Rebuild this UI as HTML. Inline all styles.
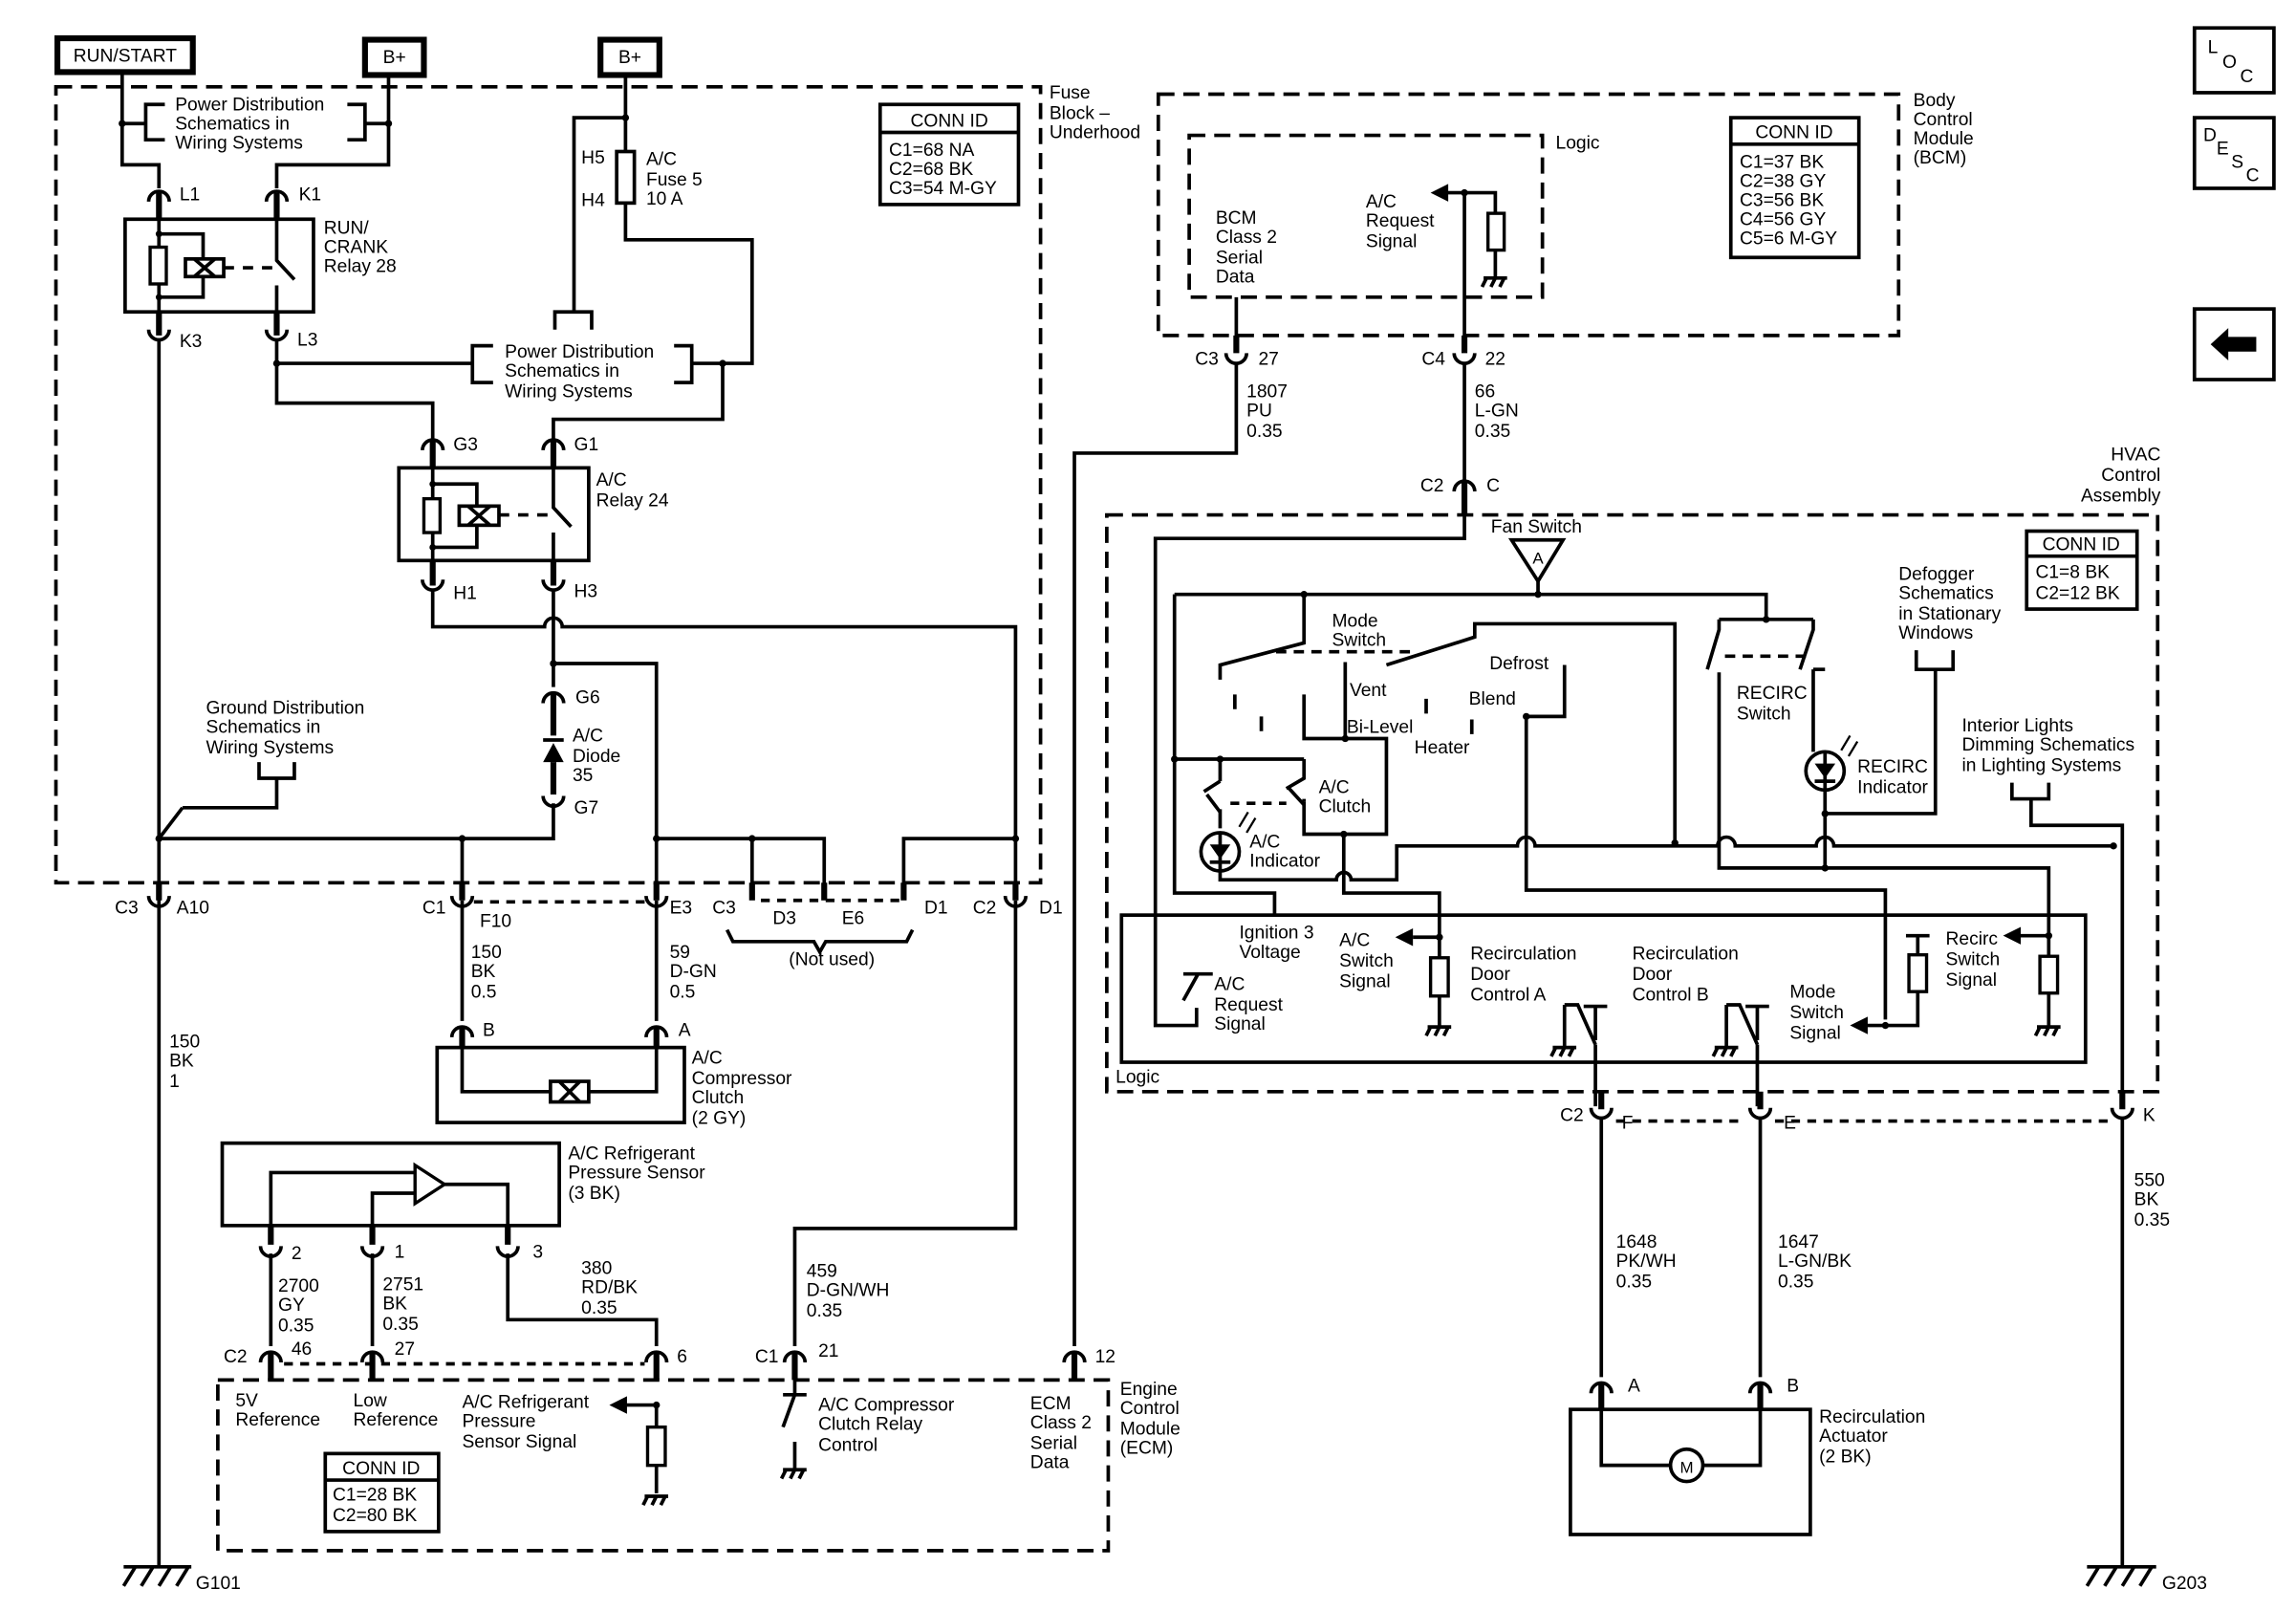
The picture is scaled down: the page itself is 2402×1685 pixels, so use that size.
<!DOCTYPE html>
<html><head><meta charset="utf-8"><style>
html,body{margin:0;padding:0;background:#fff}
svg{display:block}
text{font-family:"Liberation Sans",sans-serif;font-size:12.5px;fill:#000}
.w{stroke:#000;stroke-width:2.4;fill:none}
.t{stroke:#000;stroke-width:4;fill:none}
.d{stroke:#000;stroke-width:2.4;fill:none;stroke-dasharray:11 6}
.c{stroke:#000;stroke-width:2.4;fill:none}
</style></head><body>
<svg width="2402" height="1685" viewBox="0 0 1560 1095" preserveAspectRatio="none" xmlns="http://www.w3.org/2000/svg">
<rect width="1560" height="1095" fill="#fff"/>
<!-- top power boxes -->
<rect x="39" y="26" width="92" height="23" fill="#fff" stroke="#000" stroke-width="4"/>
<text x="85" y="42" text-anchor="middle">RUN/START</text>
<rect x="248" y="27" width="40" height="24" fill="#fff" stroke="#000" stroke-width="4"/>
<text x="268" y="43" text-anchor="middle">B+</text>
<rect x="408" y="27" width="40" height="24" fill="#fff" stroke="#000" stroke-width="4"/>
<text x="428" y="43" text-anchor="middle">B+</text>
<!-- fuse block -->
<rect x="38" y="59" width="669" height="541" class="d"/>
<text x="713" y="67">Fuse</text><text x="713" y="81">Block –</text><text x="713" y="94">Underhood</text>
<rect x="598" y="71" width="94" height="68" fill="none" stroke="#000" stroke-width="2.4"/>
<line x1="598" y1="90" x2="692" y2="90" class="w"/>
<text x="645" y="86" text-anchor="middle">CONN ID</text>
<text x="604" y="106">C1=68 NA</text><text x="604" y="119">C2=68 BK</text><text x="604" y="132">C3=54 M-GY</text>
<!-- power dist bracket 1 -->
<path class="w" d="M83 49 V112 H108 V128 M264 51 V112 H188 V128 M83 84 H99 M264 84 H248 M112 71 H99 V95 H112 M236 71 H248 V95 H236"/>
<circle cx="83" cy="84" r="2.4"/><circle cx="264" cy="84" r="2.4"/>
<text x="119" y="75">Power Distribution</text><text x="119" y="88">Schematics in</text><text x="119" y="101">Wiring Systems</text>
<!-- L1 K1 -->
<path class="c" d="M101 137 A7 7 0 0 1 115 137 M181 137 A7 7 0 0 1 195 137"/>
<text x="122" y="136">L1</text><text x="203" y="136">K1</text>
<path class="t" d="M108 131 V149 M188 131 V149 M108 212 V228 M188 212 V228"/>
<!-- relay 28 -->
<rect x="85" y="149" width="128" height="63" fill="none" stroke="#000" stroke-width="2.4"/>
<path class="w" d="M108 149 V212 M108 159 H138 V176 M108 202 H138 V188 M188 149 V177 L200 190 M188 194 V212"/>
<path class="d" d="M152 182 H186" style="stroke-dasharray:7 6"/>
<rect x="102" y="168" width="11" height="25" fill="#fff" stroke="#000" stroke-width="2.2"/>
<rect x="126" y="176" width="26" height="12" fill="#fff" stroke="#000" stroke-width="2.4"/>
<path class="w" d="M132 176 L146 188 M146 176 L132 188"/>
<circle cx="108" cy="159" r="2.2"/><circle cx="108" cy="202" r="2.2"/>
<text x="220" y="159">RUN/</text><text x="220" y="172">CRANK</text><text x="220" y="185">Relay 28</text>
<path class="c" d="M101 224 A7 7 0 0 0 115 224 M181 224 A7 7 0 0 0 195 224"/>
<text x="122" y="236">K3</text><text x="202" y="235">L3</text>
<!-- L3 wiring -->
<path class="w" d="M188 230 V274 H294 V298 M188 247 H321 M108 230 V1065"/>
<circle cx="188" cy="247" r="2.4"/>
<path class="w" d="M335 235 H321 V260 H335 M458 235 H470 V260 H458 M470 247 H511 V163 H425 V52 M491 247 V285 H376 V298 M425 80 H390 V212 M377 224 V212 H402 V224"/>
<circle cx="491" cy="247" r="2.4"/><circle cx="425" cy="80" r="2.4"/>
<rect x="419" y="103" width="12" height="35" fill="#fff" stroke="#000" stroke-width="2.4"/>
<text x="343" y="243">Power Distribution</text><text x="343" y="256">Schematics in</text><text x="343" y="270">Wiring Systems</text>
<text x="395" y="111">H5</text><text x="395" y="140">H4</text>
<text x="439" y="112">A/C</text><text x="439" y="126">Fuse 5</text><text x="439" y="139">10 A</text>
<!-- relay 24 -->
<path class="c" d="M287 306 A7 7 0 0 1 301 306 M369 306 A7 7 0 0 1 383 306"/>
<text x="308" y="306">G3</text><text x="390" y="306">G1</text>
<path class="t" d="M294 300 V318 M376 300 V318 M294 381 V398 M376 381 V398"/>
<rect x="271" y="318" width="129" height="63" fill="none" stroke="#000" stroke-width="2.4"/>
<path class="w" d="M294 318 V381 M294 329 H324 V344 M294 372 H324 V357 M376 318 V345 L388 358 M376 362 V381"/>
<path class="d" d="M339 350 H372" style="stroke-dasharray:7 6"/>
<rect x="288" y="339" width="11" height="23" fill="#fff" stroke="#000" stroke-width="2.2"/>
<rect x="312" y="344" width="27" height="13" fill="#fff" stroke="#000" stroke-width="2.4"/>
<path class="w" d="M318 344 L333 357 M333 344 L318 357"/>
<circle cx="294" cy="329" r="2.2"/><circle cx="294" cy="372" r="2.2"/>
<text x="405" y="330">A/C</text><text x="405" y="344">Relay 24</text>
<path class="c" d="M287 394 A7 7 0 0 0 301 394 M369 394 A7 7 0 0 0 383 394"/>
<text x="308" y="407">H1</text><text x="390" y="406">H3</text>
<path class="w" d="M294 400 V426 H370 A6 6 0 0 1 382 426 H690 V607 M376 400 V467 M376 451 H446 V607"/>
<circle cx="376" cy="451" r="2.4"/>
<!-- diode -->
<path class="c" d="M369 478 A7 7 0 0 1 383 478"/>
<text x="391" y="478">G6</text>
<path class="t" d="M376 472 V500 M376 518 V540"/>
<path d="M369 518 L383 518 L376 505 Z" fill="#000"/><path class="w" d="M369 503 H383"/>
<text x="389" y="504">A/C</text><text x="389" y="518">Diode</text><text x="389" y="531">35</text>
<path class="c" d="M369 541 A7 7 0 0 0 383 541"/>
<text x="390" y="553">G7</text>
<path class="w" d="M376 546 V570 H108 M124 549 H188 V529 M176 518 V529 H200 V518 M124 549 L108 570 M314 570 V607 M446 570 H511 V607 M511 570 H560 V607 M614 607 V570 H690"/>
<circle cx="108" cy="570" r="2.4"/><circle cx="314" cy="570" r="2.4"/><circle cx="446" cy="570" r="2.4"/><circle cx="511" cy="570" r="2.4"/><circle cx="690" cy="570" r="2.4"/>
<text x="140" y="485">Ground Distribution</text><text x="140" y="498">Schematics in</text><text x="140" y="512">Wiring Systems</text>
<!-- fuse block bottom connectors -->
<path class="t" d="M108 600 V612 M314 600 V612 M446 600 V612 M511 600 V612 M560 600 V612 M614 600 V612 M690 600 V612"/>
<path class="c" d="M101 609 A7 7 0 0 0 115 609 M307 609 A7 7 0 0 0 321 609 M439 609 A7 7 0 0 0 453 609 M683 609 A7 7 0 0 0 697 609"/>
<path class="d" d="M322 613 H440 M517 612 H612" style="stroke-dasharray:6 5"/>
<text x="78" y="621">C3</text><text x="120" y="621">A10</text>
<text x="287" y="621">C1</text><text x="326" y="630">F10</text>
<text x="455" y="621">E3</text><text x="484" y="621">C3</text><text x="525" y="628">D3</text><text x="572" y="628">E6</text><text x="628" y="621">D1</text>
<text x="661" y="621">C2</text><text x="706" y="621">D1</text>
<path class="w" d="M494 632 L498 640 H553 L557 647 L561 640 H616 L620 632"/>
<text x="536" y="656">(Not used)</text>
<text x="115" y="712">150</text><text x="115" y="725">BK</text><text x="115" y="739">1</text>
<!-- compressor clutch -->
<path class="w" d="M314 612 V694 M446 612 V694"/>
<text x="320" y="651">150</text><text x="320" y="664">BK</text><text x="320" y="678">0.5</text>
<text x="455" y="651">59</text><text x="455" y="664">D-GN</text><text x="455" y="678">0.5</text>
<path class="c" d="M307 705 A7 7 0 0 1 321 705 M439 705 A7 7 0 0 1 453 705"/>
<text x="328" y="704">B</text><text x="461" y="704">A</text>
<path class="t" d="M314 699 V712 M446 699 V712"/>
<rect x="297" y="712" width="168" height="51" fill="none" stroke="#000" stroke-width="2.4"/>
<path class="w" d="M314 712 V742 H446 V712"/>
<rect x="374" y="735" width="26" height="14" fill="#fff" stroke="#000" stroke-width="2.4"/>
<path class="w" d="M380 735 L394 749 M394 735 L380 749"/>
<text x="470" y="723">A/C</text><text x="470" y="737">Compressor</text><text x="470" y="750">Clutch</text><text x="470" y="764">(2 GY)</text>
<!-- pressure sensor -->
<rect x="151" y="777" width="229" height="56" fill="none" stroke="#000" stroke-width="2.4"/>
<path class="w" d="M184 833 V797 H282 M253 833 V811 H282 M302 805 H345 V833"/>
<path d="M282 792 L302 805 L282 818 Z" fill="#fff" stroke="#000" stroke-width="2.2"/>
<text x="386" y="788">A/C Refrigerant</text><text x="386" y="801">Pressure Sensor</text><text x="386" y="815">(3 BK)</text>
<path class="t" d="M184 833 V846 M253 833 V846 M345 833 V846"/>
<path class="c" d="M177 847 A7 7 0 0 0 191 847 M246 847 A7 7 0 0 0 260 847 M338 847 A7 7 0 0 0 352 847"/>
<text x="198" y="856">2</text><text x="268" y="855">1</text><text x="362" y="855">3</text>
<path class="w" d="M184 852 V915 M253 852 V915 M345 852 V897 H446 V915"/>
<text x="189" y="878">2700</text><text x="189" y="891">GY</text><text x="189" y="905">0.35</text>
<text x="260" y="877">2751</text><text x="260" y="890">BK</text><text x="260" y="904">0.35</text>
<text x="395" y="866">380</text><text x="395" y="879">RD/BK</text><text x="395" y="893">0.35</text>
<path class="w" d="M540 915 V835 H690 V612"/>
<text x="548" y="868">459</text><text x="548" y="881">D-GN/WH</text><text x="548" y="895">0.35</text>
<path class="w" d="M730 915 V308 H840 V247"/>
<!-- ECM -->
<path class="c" d="M177 926 A7 7 0 0 1 191 926 M246 926 A7 7 0 0 1 260 926 M439 926 A7 7 0 0 1 453 926 M533 926 A7 7 0 0 1 547 926 M723 926 A7 7 0 0 1 737 926"/>
<path class="t" d="M184 920 V938 M253 920 V938 M446 920 V938 M540 920 V938 M730 920 V938"/>
<path class="d" d="M193 927 H438" style="stroke-dasharray:6 5"/>
<text x="152" y="926">C2</text><text x="198" y="921">46</text><text x="268" y="921">27</text><text x="460" y="926">6</text>
<text x="513" y="926">C1</text><text x="556" y="922">21</text><text x="744" y="926">12</text>
<rect x="148" y="938" width="605" height="116" class="d"/>
<text x="761" y="948">Engine</text><text x="761" y="961">Control</text><text x="761" y="975">Module</text><text x="761" y="988">(ECM)</text>
<text x="160" y="956">5V</text><text x="160" y="969">Reference</text>
<text x="240" y="956">Low</text><text x="240" y="969">Reference</text>
<text x="314" y="957">A/C Refrigerant</text><text x="314" y="970">Pressure</text><text x="314" y="984">Sensor Signal</text>
<path class="w" d="M424 955 H446 V970 M446 996 V1015"/>
<path d="M414 955 L426 949 L426 961 Z" fill="#000"/><circle cx="446" cy="955" r="2.4"/>
<rect x="440" y="970" width="12" height="26" fill="#fff" stroke="#000" stroke-width="2.2"/>
<path class="w" d="M438 1017 H454 M440 1017 L437 1023 M446 1017 L443 1023 M452 1017 L449 1023"/>
<path class="w" d="M540 938 V948 M532 948 H548 M540 948 L532 970 M540 980 V998 M532 999 H548 M534 999 L531 1005 M540 999 L537 1005 M546 999 L543 1005"/>
<text x="556" y="959">A/C Compressor</text><text x="556" y="972">Clutch Relay</text><text x="556" y="986">Control</text>
<text x="700" y="958">ECM</text><text x="700" y="971">Class 2</text><text x="700" y="985">Serial</text><text x="700" y="998">Data</text>
<rect x="221" y="988" width="77" height="53" fill="none" stroke="#000" stroke-width="2.4"/>
<line x1="221" y1="1006" x2="298" y2="1006" class="w"/>
<text x="259" y="1002" text-anchor="middle">CONN ID</text>
<text x="226" y="1020">C1=28 BK</text><text x="226" y="1034">C2=80 BK</text>
<!-- G101 -->
<path class="w" d="M84 1065 H130 M92 1065 L84 1078 M104 1065 L96 1078 M116 1065 L108 1078 M128 1065 L120 1078"/>
<text x="133" y="1080">G101</text>
<!-- BCM -->
<rect x="787" y="64" width="503" height="164" class="d"/>
<rect x="808" y="92" width="240" height="110" class="d"/>
<text x="1057" y="101">Logic</text>
<text x="1300" y="72">Body</text><text x="1300" y="85">Control</text><text x="1300" y="98">Module</text><text x="1300" y="111">(BCM)</text>
<rect x="1176" y="80" width="87" height="95" fill="none" stroke="#000" stroke-width="2.4"/>
<line x1="1176" y1="98" x2="1263" y2="98" class="w"/>
<text x="1219" y="94" text-anchor="middle">CONN ID</text>
<text x="1182" y="114">C1=37 BK</text><text x="1182" y="127">C2=38 GY</text><text x="1182" y="140">C3=56 BK</text><text x="1182" y="153">C4=56 GY</text><text x="1182" y="166">C5=6 M-GY</text>
<text x="826" y="152">BCM</text><text x="826" y="165">Class 2</text><text x="826" y="179">Serial</text><text x="826" y="192">Data</text>
<text x="928" y="141">A/C</text><text x="928" y="154">Request</text><text x="928" y="168">Signal</text>
<path class="w" d="M840 202 V234 M982 131 H1016 V145 M1016 170 V188 M1008 189 H1024 M1010 189 L1007 195 M1016 189 L1013 195 M1022 189 L1019 195 M995 131 V234"/>
<path d="M972 131 L984 125 L984 137 Z" fill="#000"/><circle cx="995" cy="131" r="2.4"/>
<rect x="1011" y="145" width="11" height="25" fill="#fff" stroke="#000" stroke-width="2.2"/>
<path class="t" d="M840 228 V240 M995 228 V240"/>
<path class="c" d="M833 240 A7 7 0 0 0 847 240 M988 240 A7 7 0 0 0 1002 240"/>
<text x="812" y="248">C3</text><text x="855" y="248">27</text><text x="966" y="248">C4</text><text x="1009" y="248">22</text>
<text x="847" y="270">1807</text><text x="847" y="283">PU</text><text x="847" y="297">0.35</text>
<text x="1002" y="270">66</text><text x="1002" y="283">L-GN</text><text x="1002" y="297">0.35</text>
<path class="w" d="M995 246 V326"/>
<path class="c" d="M988 334 A7 7 0 0 1 1002 334"/>
<path class="t" d="M995 328 V350"/>
<text x="965" y="334">C2</text><text x="1010" y="334">C</text>
<!-- HVAC -->
<rect x="752" y="350" width="714" height="392" class="d"/>
<text x="1468" y="313" text-anchor="end">HVAC</text><text x="1468" y="327" text-anchor="end">Control</text><text x="1468" y="341" text-anchor="end">Assembly</text>
<rect x="1377" y="361" width="75" height="53" fill="none" stroke="#000" stroke-width="2.4"/>
<line x1="1377" y1="378" x2="1452" y2="378" class="w"/>
<text x="1414" y="374" text-anchor="middle">CONN ID</text>
<text x="1383" y="393">C1=8 BK</text><text x="1383" y="407">C2=12 BK</text>
<!-- logic inside hvac -->
<path class="w" d="M995 350 V366 H785 V697 H813 V685"/>
<text x="1013" y="362">Fan Switch</text>
<path d="M1027 367 L1062 367 L1045 395 Z" fill="#fff" stroke="#000" stroke-width="2.4"/>
<text x="1045" y="383" text-anchor="middle" style="font-size:11px">A</text>
<path class="w" d="M1045 395 V404 M798 404 H1200 V421 M1168 421 H1232 M1168 421 V428 L1160 455 M1232 421 V428 L1223 455"/>
<circle cx="886" cy="404" r="2.4"/><circle cx="1045" cy="404" r="2.4"/><circle cx="1200" cy="421" r="2.4"/>
<path class="d" d="M1172 446 H1228" style="stroke-dasharray:7 5"/>
<path class="w" d="M798 404 V607 H866 V622 M798 516 H886 M886 404 V437 L829 452 V462 M942 452 L1002 433 V424 H1138 V573"/>
<circle cx="798" cy="516" r="2.4"/><circle cx="829" cy="516" r="2.4"/>
<path class="d" d="M867 443 H960" style="stroke-dasharray:7 5"/>
<path class="w" d="M839 472 V482 M857 487 V497 M914 450 V502 M886 472 V502 H942 V567 H886 V545 M969 475 V485 M1000 489 V499"/>
<circle cx="914" cy="502" r="2.4"/>
<text x="905" y="426">Mode</text><text x="905" y="439">Switch</text>
<text x="917" y="473">Vent</text><text x="915" y="498">Bi-Level</text><text x="961" y="512">Heater</text>
<text x="1012" y="455">Defrost</text><text x="998" y="479">Blend</text>
<path class="w" d="M1063 452 V487 H1037 V605 H1281 V693"/>
<circle cx="1037" cy="487" r="2.4"/>
<!-- ac clutch -->
<path class="w" d="M829 516 V531 M829 531 L818 538 M829 550 V563 M886 516 V529 L874 536 M886 543 V545"/>
<path class="w" d="M820 540 L829 552 M875 535 L886 547"/>
<path class="d" d="M836 546 H874" style="stroke-dasharray:6 5"/>
<circle cx="829" cy="579" r="13" fill="#fff" stroke="#000" stroke-width="2.4"/>
<path d="M822 574 H836 L829 584 Z" fill="#000"/><path class="w" d="M822 586 H836 M829 566 V592"/>
<path class="w" d="M842 562 L848 552 M847 566 L853 556" style="stroke-width:1.5"/>
<text x="896" y="539">A/C</text><text x="896" y="552">Clutch</text>
<text x="849" y="576">A/C</text><text x="849" y="589">Indicator</text>
<path class="w" d="M829 592 V598 H908 A5 5 0 0 1 918 598 H949 V575 H1031 A5 5 0 0 1 1043 575 H1167 A5 5 0 0 1 1179 575 H1234 A5 5 0 0 1 1246 575 H1436"/>
<path class="w" d="M913 567 V607 H978 V651 M978 677 V697 M970 698 H986 M972 698 L969 704 M978 698 L975 704 M984 698 L981 704 M960 637 H978"/>
<circle cx="913" cy="567" r="2.4"/><circle cx="1138" cy="573" r="2.4"/><circle cx="1436" cy="575" r="2.4"/><circle cx="978" cy="637" r="2.4"/>
<path d="M948 637 L960 631 L960 643 Z" fill="#000"/>
<rect x="972" y="651" width="12" height="26" fill="#fff" stroke="#000" stroke-width="2.2"/>
<!-- recirc -->
<path class="w" d="M1168 457 V590 H1392 V650 M1392 674 V697 M1384 698 H1400 M1386 698 L1383 704 M1392 698 L1389 704 M1398 698 L1395 704 M1372 636 H1392"/>
<circle cx="1240" cy="590" r="2.4"/><circle cx="1392" cy="636" r="2.4"/>
<path d="M1361 636 L1373 630 L1373 642 Z" fill="#000"/>
<rect x="1386" y="650" width="12" height="25" fill="#fff" stroke="#000" stroke-width="2.2"/>
<path class="w" d="M1232 455 V511 M1240 537 V590 M1240 553 H1315 V455 M1302 442 V455 H1327 V442"/>
<circle cx="1240" cy="553" r="2.4"/>
<circle cx="1240" cy="524" r="13" fill="#fff" stroke="#000" stroke-width="2.4"/>
<path d="M1233 519 H1247 L1240 529 Z" fill="#000"/><path class="w" d="M1233 531 H1247 M1240 511 V537"/>
<path class="w" d="M1251 510 L1257 500 M1256 514 L1262 504" style="stroke-width:1.5"/>
<path class="w" d="M1232 455 L1240 455"/>
<text x="1180" y="475">RECIRC</text><text x="1180" y="489">Switch</text>
<text x="1262" y="525">RECIRC</text><text x="1262" y="539">Indicator</text>
<text x="1290" y="394">Defogger</text><text x="1290" y="407">Schematics</text><text x="1290" y="421">in Stationary</text><text x="1290" y="434">Windows</text>
<text x="1333" y="497">Interior Lights</text><text x="1333" y="510">Dimming Schematics</text><text x="1333" y="524">in Lighting Systems</text>
<path class="w" d="M1367 532 V543 H1392 V532 M1380 543 V561 H1442 V750"/>
<!-- logic box -->
<rect x="762" y="622" width="655" height="100" fill="none" stroke="#000" stroke-width="2.4"/>
<text x="758" y="736">Logic</text>
<text x="842" y="638">Ignition 3</text><text x="842" y="651">Voltage</text>
<text x="825" y="673">A/C</text><text x="825" y="687">Request</text><text x="825" y="700">Signal</text>
<path class="w" d="M804 662 H824 M814 662 L804 680"/>
<text x="910" y="643">A/C</text><text x="910" y="657">Switch</text><text x="910" y="671">Signal</text>
<text x="999" y="652">Recirculation</text><text x="999" y="666">Door</text><text x="999" y="680">Control A</text>
<text x="1109" y="652">Recirculation</text><text x="1109" y="666">Door</text><text x="1109" y="680">Control B</text>
<text x="1216" y="678">Mode</text><text x="1216" y="692">Switch</text><text x="1216" y="706">Signal</text>
<path class="w" d="M1076 684 H1092 M1084 684 V707 M1063 683 H1072 L1084 710 M1063 683 V711 M1055 712 H1071 M1057 712 L1054 718 M1063 712 L1060 718 M1069 712 L1066 718 M1084 710 V752"/>
<path class="w" d="M1186 684 H1202 M1194 684 V707 M1173 683 H1182 L1194 710 M1173 683 V711 M1165 712 H1181 M1167 712 L1164 718 M1173 712 L1170 718 M1179 712 L1176 718 M1194 710 V752"/>
<path class="w" d="M1281 697 H1303 V674 M1303 649 V636 M1295 636 H1311"/>
<rect x="1297" y="649" width="12" height="25" fill="#fff" stroke="#000" stroke-width="2.2"/>
<circle cx="1281" cy="697" r="2.4"/>
<path d="M1257 697 L1269 691 L1269 703 Z" fill="#000"/><path class="w" d="M1268 697 H1281"/>
<text x="1322" y="642">Recirc</text><text x="1322" y="656">Switch</text><text x="1322" y="670">Signal</text>
<!-- C2 bottom -->
<path class="t" d="M1088 742 V754 M1196 742 V754 M1442 742 V754"/>
<path class="c" d="M1081 753 A7 7 0 0 0 1095 753 M1189 753 A7 7 0 0 0 1203 753 M1435 753 A7 7 0 0 0 1449 753"/>
<path class="d" d="M1098 762 H1186 M1206 762 H1432" style="stroke-dasharray:6 5"/>
<text x="1060" y="762">C2</text><text x="1102" y="767">F</text><text x="1212" y="767">E</text><text x="1456" y="762">K</text>
<path class="w" d="M1088 759 V936 M1196 759 V936 M1442 759 V1065"/>
<text x="1098" y="848">1648</text><text x="1098" y="861">PK/WH</text><text x="1098" y="875">0.35</text>
<text x="1208" y="848">1647</text><text x="1208" y="861">L-GN/BK</text><text x="1208" y="875">0.35</text>
<text x="1450" y="806">550</text><text x="1450" y="819">BK</text><text x="1450" y="833">0.35</text>
<path class="c" d="M1081 947 A7 7 0 0 1 1095 947 M1189 947 A7 7 0 0 1 1203 947"/>
<text x="1106" y="946">A</text><text x="1214" y="946">B</text>
<path class="t" d="M1088 941 V958 M1196 941 V958"/>
<rect x="1067" y="958" width="163" height="85" fill="none" stroke="#000" stroke-width="2.4"/>
<path class="w" d="M1088 958 V996 H1196 V958"/>
<circle cx="1146" cy="996" r="11" fill="#fff" stroke="#000" stroke-width="2.4"/>
<text x="1146" y="1001" text-anchor="middle" style="font-size:11px">M</text>
<text x="1236" y="967">Recirculation</text><text x="1236" y="980">Actuator</text><text x="1236" y="994">(2 BK)</text>
<path class="w" d="M1418 1065 H1465 M1426 1065 L1418 1078 M1438 1065 L1430 1078 M1450 1065 L1442 1078 M1462 1065 L1454 1078"/>
<text x="1469" y="1080">G203</text>
<!-- side icons -->
<rect x="1491" y="19" width="54" height="44" fill="none" stroke="#000" stroke-width="2.4"/>
<text x="1500" y="36">L</text><text x="1510" y="46">O</text><text x="1522" y="56">C</text>
<rect x="1491" y="80" width="54" height="48" fill="none" stroke="#000" stroke-width="2.4"/>
<text x="1497" y="96">D</text><text x="1506" y="105">E</text><text x="1516" y="114">S</text><text x="1526" y="123">C</text>
<rect x="1491" y="210" width="54" height="48" fill="none" stroke="#000" stroke-width="2.4"/>
<path d="M1502 234 L1514 223 V229 H1533 V239 H1514 V245 Z" fill="#000"/>
</svg>
</body></html>
